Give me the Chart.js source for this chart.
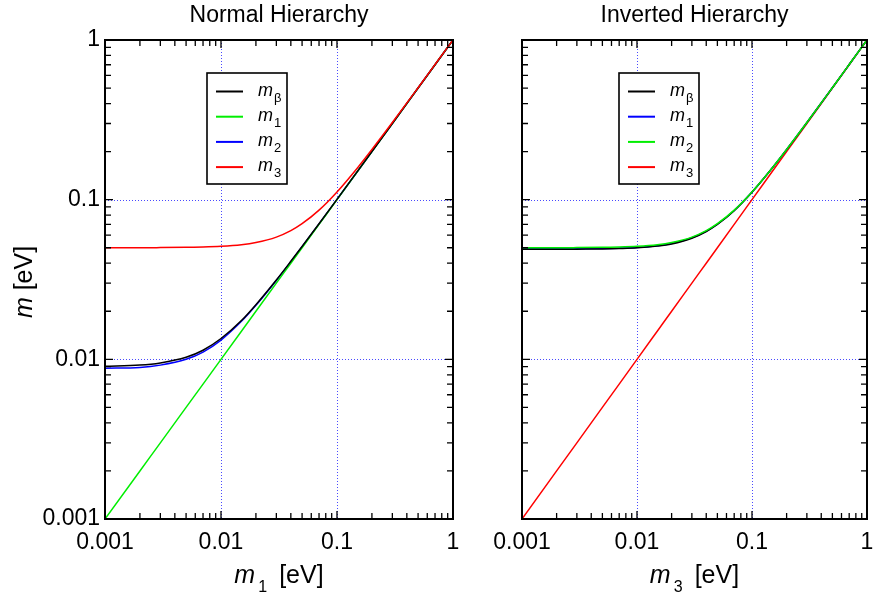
<!DOCTYPE html>
<html><head><meta charset="utf-8">
<script src="https://cdn.jsdelivr.net/npm/chart.js@4"></script>
<style>html,body{margin:0;padding:0;background:#fff;overflow:hidden;width:874px;height:595px;}canvas{position:absolute;left:0;top:0;}</style>
</head><body>
<canvas id="c1" width="874" height="595"></canvas>
<canvas id="c2" width="920" height="595"></canvas>
<script>
// lightest mass values (x axis), eV
const lightestMass = [0.001,0.002,0.003,0.005,0.007,0.01,0.015,0.02,0.03,0.04,0.05,0.07,0.1,0.15,0.2,0.3,0.5,0.7,1];

// Normal hierarchy (x = m1)
const nhMBeta = [0.00905,0.0092,0.0095,0.0103,0.0114,0.0135,0.0175,0.0220,0.0314,0.0411,0.0509,0.0707,0.1005,0.1503,0.2002,0.3001,0.5001,0.7,1.0];
const nhM1    = [0.001,0.002,0.003,0.005,0.007,0.01,0.015,0.02,0.03,0.04,0.05,0.07,0.1,0.15,0.2,0.3,0.5,0.7,1];
const nhM2    = [0.0088,0.0089,0.0092,0.0100,0.0111,0.0132,0.0173,0.0218,0.0312,0.0409,0.0507,0.0705,0.1004,0.1502,0.2002,0.3001,0.5,0.7,1.0];
const nhM3    = [0.0500,0.0500,0.0501,0.0503,0.0505,0.0510,0.0522,0.0539,0.0583,0.0640,0.0707,0.0860,0.1118,0.1581,0.2062,0.3041,0.5025,0.7018,1.0012];

// Inverted hierarchy (x = m3)
const ihMBeta = [0.0489,0.0489,0.0490,0.0491,0.0494,0.0499,0.0512,0.0528,0.0573,0.0632,0.0699,0.0853,0.1113,0.1577,0.2057,0.3038,0.5024,0.7017,1.0012];
const ihM1    = [0.0492,0.0493,0.0493,0.0495,0.0497,0.0502,0.0515,0.0532,0.0577,0.0634,0.0702,0.0856,0.1115,0.1579,0.2060,0.3040,0.5024,0.7017,1.0012];
const ihM2    = [0.0500,0.0500,0.0501,0.0503,0.0505,0.0510,0.0522,0.0539,0.0583,0.0640,0.0707,0.0860,0.1118,0.1581,0.2062,0.3041,0.5025,0.7018,1.0012];
const ihM3    = [0.001,0.002,0.003,0.005,0.007,0.01,0.015,0.02,0.03,0.04,0.05,0.07,0.1,0.15,0.2,0.3,0.5,0.7,1];

const decadeValues = [0.001,0.01,0.1,1];
const decadeLabels = ['0.001','0.01','0.1','1'];

const panelTitles = ['Normal Hierarchy','Inverted Hierarchy'];
const xAxisSubs = ['1','3'];
const nhLegend = [['β','#000000'],['1','#00ee00'],['2','#0000ff'],['3','#ff0000']];
const ihLegend = [['β','#000000'],['1','#0000ff'],['2','#00ee00'],['3','#ff0000']];

const FONT = '"Liberation Sans", Arial, sans-serif';

function pts(ys){ return lightestMass.map((x,i)=>({x:x,y:ys[i]})); }
function ds(ys,color,order){
  return {data:pts(ys),borderColor:color,backgroundColor:color,borderWidth:1.5,pointRadius:0,
          cubicInterpolationMode:'monotone',fill:false,order:order};
}
function tickLabel(v){
  const i = decadeValues.findIndex(t=>Math.abs(t-v)/t<1e-6);
  return i>=0 ? decadeLabels[i] : '';
}

function drawMLabel(ctx,x,baseline,sub,size,subSize,subDy,gap){
  ctx.font = 'italic '+size+'px '+FONT;
  ctx.textAlign='left'; ctx.textBaseline='alphabetic';
  ctx.fillText('m',x,baseline);
  const w = ctx.measureText('m').width;
  ctx.font = subSize+'px '+FONT;
  ctx.fillText(sub,x+w+gap,baseline+subDy);
  return w+gap+ctx.measureText(sub).width;
}

function makePlugin(opts){
  return {
    id:'deco',
    beforeDatasetsDraw(chart){
      const ctx=chart.ctx, a=chart.chartArea, xs=chart.scales.x, ys=chart.scales.y;
      ctx.save();
      ctx.strokeStyle='#4a4aff'; ctx.lineWidth=1; ctx.setLineDash([1,2]);
      [0.01,0.1].forEach(v=>{
        const px=Math.round(xs.getPixelForValue(v))+0.5;
        ctx.beginPath(); ctx.moveTo(px,a.top); ctx.lineTo(px,a.bottom); ctx.stroke();
        const py=Math.round(ys.getPixelForValue(v))+0.5;
        ctx.beginPath(); ctx.moveTo(a.left,py); ctx.lineTo(a.right,py); ctx.stroke();
      });
      ctx.restore();
    },
    afterDatasetsDraw(chart){
      const ctx=chart.ctx, a=chart.chartArea, xs=chart.scales.x, ys=chart.scales.y;
      ctx.save();
      ctx.setLineDash([]);
      ctx.strokeStyle='#000'; ctx.lineWidth=1.3;
      for(let d=-3; d<0; d++){
        for(let k=1;k<=9;k++){
          const v=k*Math.pow(10,d);
          const L = k===1?8:6;
          const px=xs.getPixelForValue(v);
          ctx.beginPath();
          ctx.moveTo(px,a.bottom); ctx.lineTo(px,a.bottom-L);
          ctx.moveTo(px,a.top); ctx.lineTo(px,a.top+L);
          ctx.stroke();
          const py=ys.getPixelForValue(v);
          ctx.beginPath();
          ctx.moveTo(a.left,py); ctx.lineTo(a.left+L,py);
          ctx.moveTo(a.right,py); ctx.lineTo(a.right-L,py);
          ctx.stroke();
        }
      }
      // frame
      ctx.lineWidth=2;
      ctx.strokeRect(a.left,a.top,a.right-a.left,a.bottom-a.top);
      // legend
      const lg=opts.legend;
      ctx.fillStyle='#fff';
      ctx.fillRect(lg.x,lg.y,lg.w,lg.h);
      ctx.lineWidth=1.6; ctx.strokeStyle='#000';
      ctx.strokeRect(lg.x,lg.y,lg.w,lg.h);
      opts.entries.forEach((e,i)=>{
        const y=lg.y+18.5+i*25.2;
        ctx.strokeStyle=e[1]; ctx.lineWidth=2;
        ctx.beginPath(); ctx.moveTo(lg.x+9,y); ctx.lineTo(lg.x+36,y); ctx.stroke();
        ctx.fillStyle='#000';
        drawMLabel(ctx,lg.x+51,y+4,e[0],18,13,6,1);
      });
      // panel title
      const cx=(a.left+a.right)/2;
      ctx.fillStyle='#000';
      ctx.font='23px '+FONT; ctx.textAlign='center'; ctx.textBaseline='alphabetic';
      ctx.fillText(opts.title,cx,22);
      // x axis title
      ctx.font='italic 25px '+FONT;
      const mw=ctx.measureText('m').width;
      ctx.font='25px '+FONT;
      const bw=ctx.measureText('[eV]').width;
      const total=mw+24+bw;
      let x0=cx-total/2;
      drawMLabel(ctx,x0,583,opts.xsub,25,16,9,3);
      ctx.font='25px '+FONT; ctx.textAlign='left';
      ctx.fillText('[eV]',x0+mw+24,583);
      // y axis title
      if(opts.yTitle){
        ctx.save();
        ctx.translate(32,282); ctx.rotate(-Math.PI/2);
        ctx.font='italic 25px '+FONT;
        const w1=ctx.measureText('m').width;
        ctx.font='25px '+FONT;
        const w2=ctx.measureText(' [eV]').width;
        let s=-(w1+w2)/2;
        ctx.font='italic 25px '+FONT; ctx.textAlign='left';
        ctx.fillText('m',s,0);
        ctx.font='25px '+FONT;
        ctx.fillText(' [eV]',s+w1,0);
        ctx.restore();
      }
      ctx.restore();
    }
  };
}

function makeChart(id,datasets,padding,showY,plugOpts){
  return new Chart(document.getElementById(id),{
    type:'line',
    data:{datasets:datasets},
    options:{
      responsive:false, animation:false, devicePixelRatio:1,
      layout:{padding:padding},
      plugins:{legend:{display:false},tooltip:{enabled:false},title:{display:false}},
      scales:{
        x:{type:'logarithmic',min:0.001,max:1,
           grid:{display:false,drawTicks:false},border:{display:false},
           ticks:{autoSkip:false,maxRotation:0,minRotation:0,padding:10,color:'#000',
                  font:{family:FONT,size:23},callback:tickLabel},
           afterFit:s=>{s.height=76;}},
        y:{type:'logarithmic',min:0.001,max:1,display:showY,
           grid:{display:false,drawTicks:false},border:{display:false},
           ticks:{autoSkip:false,padding:5,color:'#000',
                  font:{family:FONT,size:23},callback:tickLabel},
           afterFit:s=>{s.width=showY?105:0;}}
      }
    },
    plugins:[makePlugin(plugOpts)]
  });
}

makeChart('c1',[
  ds(nhMBeta,'#000000',1),
  ds(nhM1,'#00ee00',1),
  ds(nhM2,'#0000ff',1),
  ds(nhM3,'#ff0000',0)
],{left:0,right:421,top:40,bottom:0},true,
{legend:{x:207,y:73,w:80,h:111},entries:nhLegend,title:panelTitles[0],xsub:xAxisSubs[0],yTitle:true});

makeChart('c2',[
  ds(ihMBeta,'#000000',1),
  ds(ihM1,'#0000ff',1),
  ds(ihM2,'#00ee00',0),
  ds(ihM3,'#ff0000',1)
],{left:522,right:53,top:40,bottom:0},false,
{legend:{x:619,y:73,w:80,h:111},entries:ihLegend,title:panelTitles[1],xsub:xAxisSubs[1],yTitle:false});
</script>
</body></html>
